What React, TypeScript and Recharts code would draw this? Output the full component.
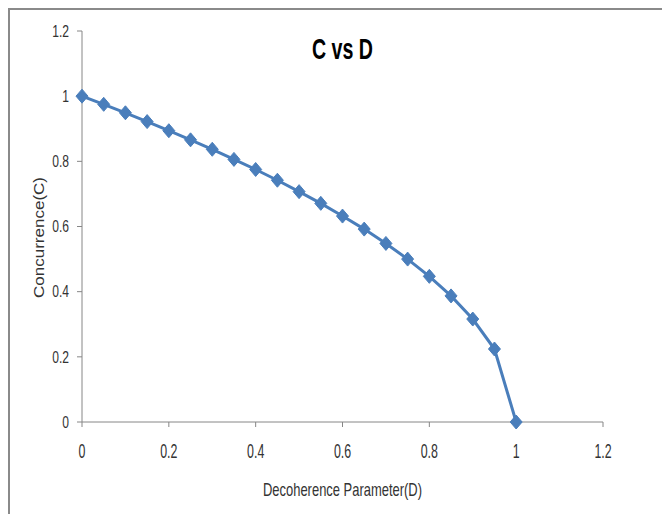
import React from "react";
import { LineChart, Line, XAxis, YAxis } from "recharts";

const dValues = [0, 0.05, 0.1, 0.15, 0.2, 0.25, 0.3, 0.35, 0.4, 0.45, 0.5, 0.55, 0.6, 0.65, 0.7, 0.75, 0.8, 0.85, 0.9, 0.95, 1];
const cValues = [1, 0.975, 0.949, 0.922, 0.894, 0.866, 0.837, 0.806, 0.775, 0.742, 0.707, 0.671, 0.632, 0.592, 0.548, 0.5, 0.447, 0.387, 0.316, 0.224, 0];
const xTicks = [0, 0.2, 0.4, 0.6, 0.8, 1, 1.2];
const yTicks = [0, 0.2, 0.4, 0.6, 0.8, 1, 1.2];

const data = dValues.map((d, i) => ({ d, c: cValues[i] }));

const FONT = "'Liberation Sans', Arial, sans-serif";
const BLUE = "#4a7ebb";
const AXIS = "#868686";
const TEXT = "#333";

const Diamond = (props: any) => {
  const { cx, cy, index } = props;
  if (cx == null || cy == null) return null;
  return (
    <path
      key={`dm-${index}`}
      d={`M${cx},${cy - 7} L${cx + 6},${cy} L${cx},${cy + 7} L${cx - 6},${cy} Z`}
      fill={BLUE}
      stroke={BLUE}
      strokeWidth={1}
    />
  );
};

const XTick = (props: any) => {
  const { x, y, payload } = props;
  return (
    <g transform={`translate(${x},${y}) scale(0.8,1.3)`}>
      <text x={0} y={23.5} textAnchor="middle" fontFamily={FONT} fontSize={15.5} fill={TEXT}>
        {String(payload.value)}
      </text>
    </g>
  );
};

const YTick = (props: any) => {
  const { x, y, payload } = props;
  return (
    <g transform={`translate(${x - 8},${y}) scale(0.78,1.05)`}>
      <text x={0} y={5.4} textAnchor="end" fontFamily={FONT} fontSize={15.5} fill={TEXT}>
        {String(payload.value)}
      </text>
    </g>
  );
};

export default function App() {
  return (
    <div style={{ position: "relative", width: 662, height: 506 }}>
      <svg width={662} height={506} style={{ position: "absolute", left: 0, top: 0 }}>
        <line x1={0} y1={1} x2={662} y2={1} stroke="#8a8a8a" strokeWidth={2} />
        <line x1={1} y1={0} x2={1} y2={506} stroke="#8a8a8a" strokeWidth={2} />
      </svg>
      <div style={{ position: "absolute", left: 0, top: 0 }}>
        <LineChart
          width={662}
          height={506}
          data={data}
          margin={{ top: 23, right: 67, left: 34, bottom: 62 }}
        >
          <XAxis
            dataKey="d"
            type="number"
            domain={[0, 1.2]}
            ticks={xTicks}
            height={30}
            tickSize={5}
            tickMargin={0}
            tickLine={{ stroke: AXIS }}
            axisLine={{ stroke: AXIS }}
            tick={XTick}
          />
          <YAxis
            dataKey="c"
            type="number"
            domain={[0, 1.2]}
            ticks={yTicks}
            width={40}
            tickSize={5}
            tickMargin={0}
            tickLine={{ stroke: AXIS }}
            axisLine={{ stroke: AXIS }}
            tick={YTick}
          />
          <Line
            type="linear"
            dataKey="c"
            stroke={BLUE}
            strokeWidth={3}
            dot={Diamond}
            activeDot={false}
            isAnimationActive={false}
          />
        </LineChart>
      </div>
      <svg
        width={662}
        height={506}
        style={{ position: "absolute", left: 0, top: 0, pointerEvents: "none" }}
      >
        <text
          x={304}
          y={51}
          fontFamily={FONT}
          fontWeight="bold"
          fontSize={30}
          fill="#000"
          textLength={61}
          lengthAdjust="spacingAndGlyphs"
        >
          C vs D
        </text>
        <g transform="translate(255,488) scale(1,1.2)">
          <text
            x={0}
            y={0}
            fontFamily={FONT}
            fontSize={15}
            fill={TEXT}
            textLength={159}
            lengthAdjust="spacingAndGlyphs"
          >
            Decoherence Parameter(D)
          </text>
        </g>
        <g transform="translate(36,290) rotate(-90)">
          <text
            x={0}
            y={0}
            fontFamily={FONT}
            fontSize={14}
            fill={TEXT}
            textLength={121}
            lengthAdjust="spacingAndGlyphs"
          >
            Concurrence(C)
          </text>
        </g>
      </svg>
    </div>
  );
}
